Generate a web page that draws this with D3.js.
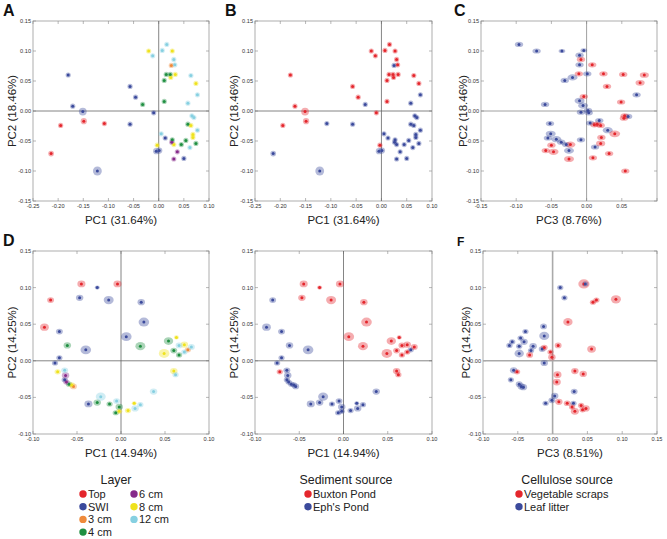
<!DOCTYPE html>
<html><head><meta charset="utf-8">
<script src="https://cdn.jsdelivr.net/npm/d3@7"></script>
<style>body{margin:0;background:#fff} svg{display:block} text{font-family:"Liberation Sans",Arial,sans-serif}</style>
</head><body><svg id="c" width="667" height="539"></svg>
<script>
// ---------- categories ----------
const layers = ["Top","SWI","3 cm","4 cm","6 cm","8 cm","12 cm"];
const layerColors = ["#e4262c","#3b4a9c","#ef8a3a","#1f8f41","#862a8a","#efe21c","#86d0e1"];
const sediments = ["Buxton Pond","Eph's Pond"];
const celluloses = ["Vegetable scraps","Leaf litter"];
const pairColors = ["#e4262c","#3b4a9c"];

// ---------- axis titles / ticks ----------
const ticksAB_x = [-0.25,-0.20,-0.15,-0.10,-0.05,0.00,0.05,0.10];
const ticksC_x  = [-0.15,-0.10,-0.05,0.00,0.05,0.10];
const ticksTop_y = [-0.15,-0.10,-0.05,0.00,0.05,0.10,0.15];
const ticksDE_x = [-0.10,-0.05,0.00,0.05,0.10];
const ticksF_x  = [-0.10,-0.05,0.00,0.05,0.10,0.15];
const ticksBot_y = [-0.10,-0.05,0.00,0.05,0.10,0.15];

// ---------- data: PCA 1 (panels A, B): [PC1, PC2, layer, sediment, spread] ----------
const pcaAB = [
 [-0.180, 0.060,1,0,1],[-0.171, 0.008,1,0,1],[-0.151,-0.001,1,0,1.5],[-0.122,-0.100,1,1,1.7],
 [-0.057, 0.041,1,0,1],[-0.046, 0.023,1,0,1],[-0.057,-0.022,1,1,1],[-0.010,-0.003,1,0,1],
 [ 0.013,-0.045,1,1,1],[-0.005,-0.067,1,1,1.2],[ 0.001,-0.066,1,1,1.2],[ 0.050,-0.079,1,1,1],
 [-0.195,-0.024,0,0,1],[-0.149,-0.017,0,0,1.2],[-0.108,-0.021,0,1,1],[-0.214,-0.071,0,1,1.1],
 [ 0.015, 0.061,3,0,1],[ 0.023, 0.061,3,0,1],[ 0.011, 0.051,3,0,1],[ 0.011, 0.016,3,0,1],
 [ 0.058,-0.022,3,1,1],[ 0.027,-0.048,3,1,1],[ 0.045,-0.056,3,1,1],[ 0.054,-0.049,3,1,1],
 [ 0.074,-0.054,3,1,1],[-0.032, 0.011,3,1,1],
 [-0.020, 0.100,5,0,1],[ 0.027, 0.100,5,0,1],[ 0.033, 0.061,5,0,1],[ 0.024, 0.056,5,0,1],
 [ 0.074, 0.046,5,0,1],[ 0.064,-0.024,5,1,1],[ 0.068,-0.039,5,1,1],[ 0.068,-0.044,5,1,1],
 [ 0.030,-0.056,5,1,1],[-0.003,-0.057,5,0,1],
 [-0.012, 0.092,6,0,1],[ 0.016, 0.111,6,0,1],[ 0.007, 0.101,6,0,1],[ 0.030, 0.086,6,0,1],
 [ 0.032, 0.077,6,0,1],[ 0.064, 0.059,6,0,1],[ 0.077, 0.027,6,1,1],[ 0.058, 0.013,6,1,1],
 [ 0.066,-0.008,6,1,1],[ 0.070,-0.011,6,1,1],[ 0.077,-0.032,6,1,1],[ 0.005,-0.038,6,1,1],
 [ 0.062,-0.061,6,1,1],
 [ 0.025, 0.076,2,1,1],
 [ 0.026,-0.052,4,1,1],[ 0.037,-0.068,4,1,1],[ 0.030,-0.080,4,1,1]
];

// ---------- data: panel C: [PC3, PC2, cellulose, spread] ----------
const pcaC = [
 [-0.096, 0.111,1,1],[-0.071, 0.100,1,1],[-0.035, 0.100,1,0.8],[-0.004, 0.101,1,0.8],
 [-0.010, 0.093,1,1],[-0.010, 0.077,1,1],[ 0.001, 0.062,1,1],[-0.031, 0.051,1,1],
 [-0.020, 0.056,1,1.2],[-0.059, 0.011,1,1],[-0.010, 0.017,1,1.2],[-0.005, 0.009,1,1.2],
 [-0.008,-0.002,1,1],[ 0.002, 0.001,1,1],[ 0.003,-0.003,1,1],[ 0.071, 0.027,1,1],
 [ 0.059,-0.009,1,1],[ 0.005,-0.020,1,1],[ 0.018,-0.016,1,1],[-0.052,-0.021,1,1],
 [-0.051,-0.038,1,1.2],[-0.055,-0.045,1,1],[-0.043,-0.047,1,1.2],[-0.036,-0.052,1,1],
 [-0.029,-0.056,1,1],[-0.025,-0.066,1,1.2],[-0.008,-0.048,1,1],[ 0.012,-0.060,1,1],
 [ 0.030,-0.032,1,1.2],
 [-0.008, 0.086,0,1],[ 0.008, 0.077,0,1],[-0.011, 0.062,0,1],[ 0.024, 0.062,0,1],
 [ 0.052, 0.061,0,1],[ 0.082, 0.060,0,1.1],[ 0.076, 0.047,0,1.1],[ 0.029, 0.041,0,1],
 [-0.004, 0.024,0,1],[ 0.049, 0.015,0,1],[ 0.054,-0.008,0,1],[ 0.053,-0.012,0,1],
 [ 0.011,-0.023,0,1],[ 0.015,-0.022,0,1],[ 0.020,-0.024,0,1],[ 0.040,-0.038,0,1.3],
 [ 0.021,-0.044,0,1],[ 0.020,-0.054,0,1.1],[-0.023,-0.056,0,1.2],[-0.050,-0.057,0,1],
 [-0.058,-0.066,0,1],[-0.047,-0.068,0,1.2],[-0.025,-0.080,0,1.2],[ 0.009,-0.078,0,1],
 [ 0.032,-0.071,0,1],[ 0.055,-0.100,0,1]
];

// ---------- data: PCA 2 (panels D, E): [PC1, PC2, layer, sediment, spread] ----------
const pcaDE = [
 [-0.045, 0.105,0,0,1.3],[-0.004, 0.105,0,0,1.3],[-0.080, 0.083,0,1,1.1],[-0.087, 0.046,0,1,1.4],
 [-0.027, 0.100,1,0,0.8],[-0.047, 0.086,1,0,1.2],[-0.014, 0.083,1,0,1.6],[ 0.023, 0.080,1,0,1.2],
 [ 0.026, 0.053,1,0,1.7],[ 0.006, 0.033,1,0,1.7],[-0.070, 0.040,1,1,1.1],[-0.040, 0.015,1,1,1.7],
 [-0.070, 0.004,1,1,1],[-0.075,-0.003,1,1,1],[-0.064,-0.026,1,1,1],[-0.037,-0.059,1,1,1.3],
 [-0.061, 0.021,3,1,1.2],[ 0.022, 0.020,3,0,1.6],[ 0.054, 0.027,3,0,1.5],[ 0.060, 0.014,3,0,1.1],
 [ 0.066, 0.008,3,0,1],[-0.027,-0.057,3,1,1.2],[-0.013,-0.059,3,1,1],[-0.002,-0.063,3,1,1.2],
 [-0.006,-0.071,3,1,1],[-0.059,-0.032,3,1,1],
 [-0.063,-0.020,4,1,1.2],[-0.062,-0.029,4,1,1],
 [-0.054,-0.035,2,1,1.1],[ 0.076, 0.015,2,1,1],
 [-0.072,-0.015,5,0,1],[ 0.063, 0.032,5,0,0.8],[ 0.072, 0.022,5,0,1.2],[ 0.049, 0.010,5,0,1.7],
 [ 0.060,-0.014,5,0,1.2],[ 0.015,-0.058,5,1,0.8],[ 0.008,-0.068,5,1,1],[-0.002,-0.069,5,1,1],
 [-0.056,-0.033,5,1,1],
 [-0.064,-0.013,6,1,1.1],[-0.023,-0.049,6,1,1.6],[-0.005,-0.055,6,1,1.1],[ 0.022,-0.060,6,1,1],
 [ 0.016,-0.065,6,1,1.2],[ 0.037,-0.042,6,1,1.2],[ 0.062,-0.019,6,0,1],[ 0.066, 0.021,6,0,1.1],
 [ 0.080, 0.019,6,0,1.1],[ 0.072, 0.012,6,0,1]
];

// ---------- data: panel F: [PC3, PC2, cellulose, spread] ----------
const pcaF = [
 [ 0.011, 0.100,1,1],[ 0.017, 0.086,1,1],[-0.039, 0.040,1,1],[-0.013, 0.047,1,1.1],
 [-0.012, 0.034,1,1.6],[-0.046, 0.031,1,1],[-0.041, 0.026,1,1.2],[-0.058, 0.026,1,1],
 [-0.062, 0.021,1,1],[-0.048, 0.020,1,1],[-0.028, 0.020,1,1.2],[-0.031, 0.014,1,1],
 [-0.048, 0.010,1,1.5],[-0.015, 0.016,1,1.1],[-0.012,-0.003,1,1.2],[-0.056,-0.013,1,1.2],
 [-0.060,-0.026,1,1],[-0.048,-0.032,1,1.1],[-0.045,-0.035,1,1.2],[-0.042,-0.036,1,1.2],
 [-0.010,-0.058,1,1],[-0.001,-0.054,1,1.1],[ 0.003,-0.048,1,1.2],[ 0.031,-0.042,1,1.1],
 [ 0.030,-0.058,1,1],
 [ 0.045, 0.105,0,1.8],[ 0.058, 0.080,0,1],[ 0.063, 0.083,0,1],[ 0.091, 0.084,0,1.6],
 [ 0.022, 0.053,0,1.5],[ 0.008, 0.021,0,1.1],[ 0.056, 0.016,0,1.4],[-0.012, 0.018,0,1.1],
 [-0.003, 0.012,0,1],[-0.001, 0.005,0,1.2],[-0.033, 0.008,0,1.1],[-0.051,-0.015,0,1],
 [ 0.007,-0.019,0,1.3],[ 0.006,-0.029,0,1.3],[ 0.032,-0.014,0,1.2],[ 0.044,-0.018,0,1.2],
 [ 0.009,-0.056,0,1.2],[ 0.021,-0.058,0,1.1],[ 0.028,-0.063,0,1],[ 0.032,-0.069,0,1.3],
 [ 0.041,-0.061,0,1],[ 0.043,-0.067,0,1],[ 0.048,-0.065,0,1.2],
 [ 0.047, 0.105,1,1]
];

// ---------- drawing ----------
const svg = d3.select("#c");
const fmt = d3.format(".2f");
const fmtTick = v => fmt(v).replace("\u2212","-");

const panels = [
 {letter:"A", x0:33,  x1:209, y0:21,  y1:201, xd:[-0.25,0.10], yd:[-0.15,0.15], xt:ticksAB_x, yt:ticksTop_y, xl:"PC1 (31.64%)", yl:"PC2 (18.46%)", data:pcaAB, col:d=>layerColors[d[2]], sp:d=>d[4], ell:1, zc:"#666", zw:0.8, lx:3},
 {letter:"B", x0:255, x1:432, y0:21,  y1:201, xd:[-0.25,0.10], yd:[-0.15,0.15], xt:ticksAB_x, yt:ticksTop_y, xl:"PC1 (31.64%)", yl:"PC2 (18.46%)", data:pcaAB, col:d=>pairColors[d[3]], sp:d=>d[4], ell:1, zc:"#666", zw:0.8, lx:225},
 {letter:"C", x0:481, x1:657, y0:21,  y1:201, xd:[-0.15,0.10], yd:[-0.15,0.15], xt:ticksC_x, yt:ticksTop_y, xl:"PC3 (8.76%)", yl:"PC2 (18.46%)", data:pcaC, col:d=>pairColors[d[2]], sp:d=>d[3], ell:1.6, zc:"#888", zw:0.8, lx:454, skipLast:true},
 {letter:"D", x0:33,  x1:209, y0:251, y1:434, xd:[-0.10,0.10], yd:[-0.10,0.15], xt:ticksDE_x, yt:ticksBot_y, xl:"PC1 (14.94%)", yl:"PC2 (14.25%)", data:pcaDE, col:d=>layerColors[d[2]], sp:d=>d[4], ell:1.2, zc:"#666", zw:0.8, lx:3},
 {letter:"",  x0:255, x1:432, y0:251, y1:434, xd:[-0.10,0.10], yd:[-0.10,0.15], xt:ticksDE_x, yt:ticksBot_y, xl:"PC1 (14.94%)", yl:"PC2 (14.25%)", data:pcaDE, col:d=>pairColors[d[3]], sp:d=>d[4], ell:1.2, zc:"#666", zw:0.8, lx:225},
 {letter:"F", x0:483, x1:657, y0:251, y1:434, xd:[-0.10,0.15], yd:[-0.10,0.15], xt:ticksF_x, yt:ticksBot_y, xl:"PC3 (8.51%)", yl:"PC2 (14.25%)", data:pcaF, col:d=>pairColors[d[2]], sp:d=>d[3], ell:1.2, zc:"#aaa", zw:1.6, lx:457, small:true}
];

panels.forEach(p => {
  const x = d3.scaleLinear().domain(p.xd).range([p.x0,p.x1]);
  const y = d3.scaleLinear().domain(p.yd).range([p.y1,p.y0]);
  const g = svg.append("g");
  g.append("rect").attr("x",p.x0).attr("y",p.y0).attr("width",p.x1-p.x0).attr("height",p.y1-p.y0)
   .attr("fill","none").attr("stroke","#9a9a9a").attr("stroke-width",0.8);
  p.xt.forEach(t => {
    g.append("line").attr("x1",x(t)).attr("x2",x(t)).attr("y1",p.y1).attr("y2",p.y1-3).attr("stroke","#888").attr("stroke-width",0.6);
    g.append("line").attr("x1",x(t)).attr("x2",x(t)).attr("y1",p.y0).attr("y2",p.y0+3).attr("stroke","#888").attr("stroke-width",0.6);
  });
  p.yt.forEach(t => {
    g.append("line").attr("y1",y(t)).attr("y2",y(t)).attr("x1",p.x0).attr("x2",p.x0+3).attr("stroke","#888").attr("stroke-width",0.6);
    g.append("line").attr("y1",y(t)).attr("y2",y(t)).attr("x1",p.x1).attr("x2",p.x1-3).attr("stroke","#888").attr("stroke-width",0.6);
  });
  const xl = p.skipLast ? p.xt.slice(0,-1) : p.xt;
  g.selectAll(".xtl").data(xl).enter().append("text")
   .attr("x",d=>x(d)).attr("y",p.y1+6.5).attr("text-anchor","middle")
   .attr("font-size",5.6).attr("fill","#333").text(fmtTick);
  g.selectAll(".ytl").data(p.yt).enter().append("text")
   .attr("x",p.x0-2).attr("y",d=>y(d)+2).attr("text-anchor","end")
   .attr("font-size",5.6).attr("fill","#333").text(fmtTick);
  g.append("line").attr("x1",x(0)).attr("x2",x(0)).attr("y1",p.y0).attr("y2",p.y1).attr("stroke",p.zc).attr("stroke-width",p.zw);
  g.append("line").attr("x1",p.x0).attr("x2",p.x1).attr("y1",y(0)).attr("y2",y(0)).attr("stroke",p.zc).attr("stroke-width",p.zw);
  g.selectAll(".halo").data(p.data).enter().append("ellipse")
   .attr("cx",d=>x(d[0])).attr("cy",d=>y(d[1]))
   .attr("rx",d=>2.6*p.sp(d)*p.ell).attr("ry",d=>2.6*p.sp(d))
   .attr("fill",d=>p.col(d)).attr("fill-opacity",0.38);
  g.selectAll(".core").data(p.data).enter().append("circle")
   .attr("cx",d=>x(d[0])).attr("cy",d=>y(d[1])).attr("r",1.5)
   .attr("fill",d=>p.col(d));
  g.append("text").attr("x",(p.x0+p.x1)/2).attr("y",p.y1+23).attr("text-anchor","middle")
   .attr("font-size",11.5).attr("fill","#222").text(p.xl);
  g.append("text").attr("transform",`translate(${p.lx+13},${(p.y0+p.y1)/2}) rotate(-90)`)
   .attr("text-anchor","middle").attr("font-size",11.5).attr("fill","#222").text(p.yl);
  if (p.letter) g.append("text").attr("x",p.lx).attr("y",p.y0-5).attr("font-weight","bold")
   .attr("font-size",p.small?12:16).attr("fill","#111").text(p.letter);
});

// ---------- legends ----------
function legend(title, cx, items, colors, cols) {
  const g = svg.append("g");
  g.append("text").attr("x",cx).attr("y",484).attr("text-anchor","middle").attr("font-size",12.4).attr("fill","#222").text(title);
  items.forEach((it,i) => {
    const c = cols.find(cc => i >= cc.from && i < cc.to);
    const row = i - c.from;
    const yy = 494 + row*12.7;
    g.append("circle").attr("cx",c.x).attr("cy",yy).attr("r",3.7).attr("fill",colors[i]);
    g.append("text").attr("x",c.x+5).attr("y",yy+4).attr("font-size",11).attr("fill","#222").text(it);
  });
}
legend("Layer", 116, layers, layerColors, [{from:0,to:4,x:83},{from:4,to:7,x:134}]);
legend("Sediment source", 346, sediments, pairColors, [{from:0,to:2,x:308}]);
legend("Cellulose source", 567, celluloses, pairColors, [{from:0,to:2,x:519}]);
</script></body></html>
